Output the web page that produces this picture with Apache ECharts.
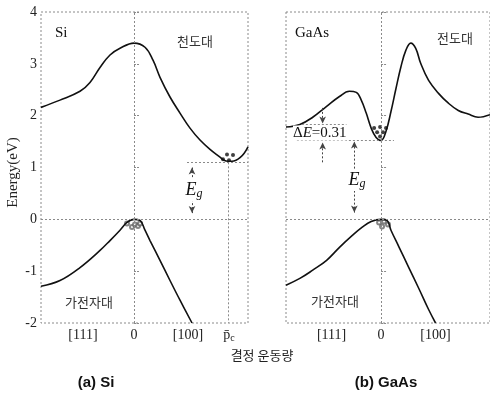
<!DOCTYPE html>
<html><head><meta charset="utf-8">
<script src="https://cdn.jsdelivr.net/npm/echarts@6/dist/echarts.min.js"></script>
<style>html,body{margin:0;padding:0;background:#fff}#c{width:490px;height:412px}</style>
</head><body><div id="c"></div>
<script>
// ---- data (crystal momentum k, energy eV) ----
const siCB_k = [-0.93,-0.74,-0.54,-0.44,-0.34,-0.24,-0.14,0,0.11,0.19,0.26,0.36,0.46,0.56,0.66,0.76,0.86,0.90,0.94,0.98,1.02,1.06,1.10,1.14];
const siCB_E = [2.16,2.30,2.47,2.64,2.93,3.17,3.30,3.40,3.32,3.07,2.74,2.36,2.05,1.76,1.53,1.35,1.20,1.14,1.12,1.12,1.14,1.19,1.27,1.40];
const siVB_k = [-0.93,-0.74,-0.54,-0.34,-0.24,-0.14,-0.07,0,0.06,0.11,0.16,0.26,0.36,0.46,0.58];
const siVB_E = [-1.29,-1.18,-0.93,-0.60,-0.41,-0.21,-0.06,0,-0.02,-0.21,-0.41,-0.79,-1.18,-1.56,-2.0];
const gaCB_k = [-0.96,-0.82,-0.69,-0.55,-0.42,-0.32,-0.25,-0.20,-0.15,-0.10,-0.05,0,0.05,0.10,0.15,0.20,0.25,0.30,0.35,0.40,0.48,0.58,0.68,0.78,0.88,0.98,1.10];
const gaCB_E = [1.78,1.83,1.97,2.18,2.37,2.47,2.45,2.30,2.05,1.76,1.58,1.52,1.70,2.08,2.52,2.94,3.26,3.40,3.30,3.01,2.68,2.43,2.24,2.10,2.03,1.97,2.02];
const gaVB_k = [-0.96,-0.82,-0.69,-0.55,-0.42,-0.29,-0.19,-0.10,0,0.06,0.10,0.18,0.28,0.38,0.48,0.55];
const gaVB_E = [-1.27,-1.14,-0.98,-0.79,-0.54,-0.31,-0.15,-0.04,0,-0.02,-0.21,-0.53,-0.93,-1.33,-1.74,-2.0];

const siElec_k = [0.93,0.99,0.89,0.95];
const siElec_E = [1.25,1.24,1.16,1.14];
const siHole_k = [-0.07,-0.02,0.01,0.04,0.06];
const siHole_E = [-0.08,-0.15,-0.10,-0.13,-0.08];
const gaElec_k = [-0.07,-0.01,0.05,-0.04,0.02,-0.01];
const gaElec_E = [1.76,1.78,1.76,1.68,1.68,1.60];
const gaHole_k = [-0.02,0.03,0.07,0.01];
const gaHole_E = [-0.06,-0.04,-0.10,-0.14];

const siTickVals = [-0.51, 0, 0.54, 0.95];
const siTickLabels = ['[111]', '0', '[100]', '{p|p\u0304}{s|c}'];
const gaTickVals = [-0.50, 0, 0.55];
const gaTickLabels = ['[111]', '0', '[100]'];

const SI_EG = 1.10, PC = 0.94, SI_ARROW_K = 0.58;
const GA_EG = 1.52, GA_L = 1.83, GA_ARROW_K = -0.27, DE_ARROW_K = -0.59;

const zip = (a, b) => a.map((v, i) => [v, b[i]]);
const serif = '"Liberation Serif","DejaVu Serif",serif';
const kr = '"Noto Sans CJK KR",sans-serif';
const dash = {color: '#8a8a8a', width: 1, type: [2, 2]};
const arrowStyle = {color: '#444', width: 1, type: [2, 2]};

const chart = echarts.init(document.getElementById('c'));
const mkLine = (data) => ({silent: true, symbol: 'none', label: {show: false}, lineStyle: dash, animation: false, data});
const arrowSeg = (a, b, sym) => [{coord: a, symbol: sym[0], symbolSize: [5, 7], lineStyle: arrowStyle}, {coord: b, symbol: sym[1], symbolSize: [5, 7]}];

function xAxisFor(idx, min, max, vals, labels) {
  return {type: 'value', gridIndex: idx, min, max, splitLine: {show: false}, axisLine: {show: false}, axisTick: {show: false},
    axisLabel: {customValues: vals, margin: 5, color: '#222', fontFamily: serif, fontSize: 14,
      rich: {p: {fontFamily: serif, fontSize: 14, color: '#222'}, s: {fontFamily: serif, fontSize: 10, color: '#222', padding: [5, 0, 0, 0]}},
      formatter: v => { const i = vals.findIndex(t => Math.abs(t - v) < 1e-6); return i >= 0 ? labels[i] : ''; }}};
}
function yAxisFor(idx, showLabels) {
  return {type: 'value', gridIndex: idx, min: -2, max: 4, interval: 1, splitLine: {show: false},
    axisLine: {show: false},
    axisTick: {show: true, inside: true, length: 6, lineStyle: {color: '#8a8a8a', type: [2, 1]}},
    axisLabel: {show: showLabels, margin: 4, color: '#222', fontFamily: serif, fontSize: 14},
    name: showLabels ? 'Energy(eV)' : '', nameLocation: 'middle', nameRotate: 90, nameGap: 20,
    nameTextStyle: {fontFamily: serif, fontSize: 15, color: '#222', padding: [0, 10, 0, 0]}};
}

const lineSeries = (name, idx, data, extra) => Object.assign({name, type: 'line', xAxisIndex: idx, yAxisIndex: idx, data: zip(...data),
  smooth: 0.4, showSymbol: false, symbol: 'none', lineStyle: {color: '#111', width: 1.6}, silent: true, animation: false}, extra || {});

const option = {
  animation: false,
  grid: [
    {left: 41, top: 12, width: 207, height: 311, show: true, borderColor: '#8a8a8a', borderWidth: 1, borderType: [2, 2]},
    {left: 286, top: 12, width: 206, height: 311, show: true, borderColor: '#8a8a8a', borderWidth: 1, borderType: [2, 2]}
  ],
  xAxis: [xAxisFor(0, -0.93, 1.14, siTickVals, siTickLabels), xAxisFor(1, -0.96, 1.10, gaTickVals, gaTickLabels)],
  yAxis: [yAxisFor(0, true), yAxisFor(1, false)],
  series: [
    lineSeries('siCB', 0, [siCB_k, siCB_E], {markLine: mkLine([
      {xAxis: 0}, {yAxis: 0},
      [{coord: [SI_ARROW_K - 0.05, SI_EG]}, {coord: [1.14, SI_EG]}],
      [{coord: [PC, SI_EG]}, {coord: [PC, -2]}],
      arrowSeg([SI_ARROW_K, 0.12], [SI_ARROW_K, SI_EG - 0.1], ['arrow', 'arrow'])
    ])}),
    lineSeries('siVB', 0, [siVB_k, siVB_E]),
    lineSeries('gaCB', 1, [gaCB_k, gaCB_E], {markLine: mkLine([
      {xAxis: 0}, {yAxis: 0},
      [{coord: [-0.85, GA_EG]}, {coord: [0.13, GA_EG]}],
      [{coord: [-0.80, GA_L]}, {coord: [-0.35, GA_L]}],
      arrowSeg([GA_ARROW_K, 0.13], [GA_ARROW_K, GA_EG - 0.02], ['arrow', 'arrow']),
      arrowSeg([DE_ARROW_K, 2.15], [DE_ARROW_K, GA_L + 0.02], ['none', 'arrow']),
      arrowSeg([DE_ARROW_K, 1.10], [DE_ARROW_K, GA_EG - 0.04], ['none', 'arrow'])
    ])}),
    lineSeries('gaVB', 1, [gaVB_k, gaVB_E]),
    {type: 'scatter', xAxisIndex: 0, yAxisIndex: 0, data: zip(siElec_k, siElec_E), symbolSize: 4, itemStyle: {color: '#111'}, silent: true},
    {type: 'scatter', xAxisIndex: 0, yAxisIndex: 0, data: zip(siHole_k, siHole_E), symbol: 'emptyCircle', symbolSize: 4, itemStyle: {color: '#666'}, silent: true},
    {type: 'scatter', xAxisIndex: 1, yAxisIndex: 1, data: zip(gaElec_k, gaElec_E), symbolSize: 4, itemStyle: {color: '#111'}, silent: true},
    {type: 'scatter', xAxisIndex: 1, yAxisIndex: 1, data: zip(gaHole_k, gaHole_E), symbol: 'emptyCircle', symbolSize: 4, itemStyle: {color: '#666'}, silent: true}
  ],
  graphic: [
    {type: 'text', x: 55, y: 33, z: 10, style: {text: 'Si', font: '15px ' + serif, fill: '#111', textVerticalAlign: 'middle'}},
    {type: 'text', x: 295, y: 33, z: 10, style: {text: 'GaAs', font: '15px ' + serif, fill: '#111', textVerticalAlign: 'middle'}},
    {type: 'text', x: 195, y: 41, z: 10, style: {text: '천도대', font: '13px ' + kr, fill: '#333', textAlign: 'center', textVerticalAlign: 'middle'}},
    {type: 'text', x: 455, y: 38, z: 10, style: {text: '전도대', font: '13px ' + kr, fill: '#333', textAlign: 'center', textVerticalAlign: 'middle'}},
    {type: 'text', x: 89, y: 302, z: 10, style: {text: '가전자대', font: '13px ' + kr, fill: '#333', textAlign: 'center', textVerticalAlign: 'middle'}},
    {type: 'text', x: 335, y: 301, z: 10, style: {text: '가전자대', font: '13px ' + kr, fill: '#333', textAlign: 'center', textVerticalAlign: 'middle'}},
    {type: 'text', x: 194, y: 190, z: 10, style: {text: '{e|E}{g|g}', textAlign: 'center', textVerticalAlign: 'middle', backgroundColor: '#fff', padding: [1, 1],
      rich: {e: {font: 'italic 18px ' + serif, fill: '#111'}, g: {font: 'italic 12px ' + serif, fill: '#111', padding: [8, 0, 0, 0]}}}},
    {type: 'text', x: 357, y: 180, z: 10, style: {text: '{e|E}{g|g}', textAlign: 'center', textVerticalAlign: 'middle', backgroundColor: '#fff', padding: [1, 1],
      rich: {e: {font: 'italic 18px ' + serif, fill: '#111'}, g: {font: 'italic 12px ' + serif, fill: '#111', padding: [8, 0, 0, 0]}}}},
    {type: 'text', x: 293, y: 133, z: 10, style: {text: '{d|Δ}{e|E}{n|=0.31}', textVerticalAlign: 'middle', backgroundColor: '#fff',
      rich: {d: {font: '15px ' + serif, fill: '#111'}, e: {font: 'italic 15px ' + serif, fill: '#111'}, n: {font: '15px ' + serif, fill: '#111'}}}},
    {type: 'text', x: 262, y: 355, z: 10, style: {text: '결정 운동량', font: '13px ' + kr, fill: '#222', textAlign: 'center', textVerticalAlign: 'middle'}},
    {type: 'text', x: 96, y: 383, z: 10, style: {text: '(a) Si', font: 'bold 15px "Liberation Sans",Arial,sans-serif', fill: '#111', textAlign: 'center', textVerticalAlign: 'middle'}},
    {type: 'text', x: 386, y: 383, z: 10, style: {text: '(b) GaAs', font: 'bold 15px "Liberation Sans",Arial,sans-serif', fill: '#111', textAlign: 'center', textVerticalAlign: 'middle'}}
  ]
};
chart.setOption(option);
</script></body></html>
